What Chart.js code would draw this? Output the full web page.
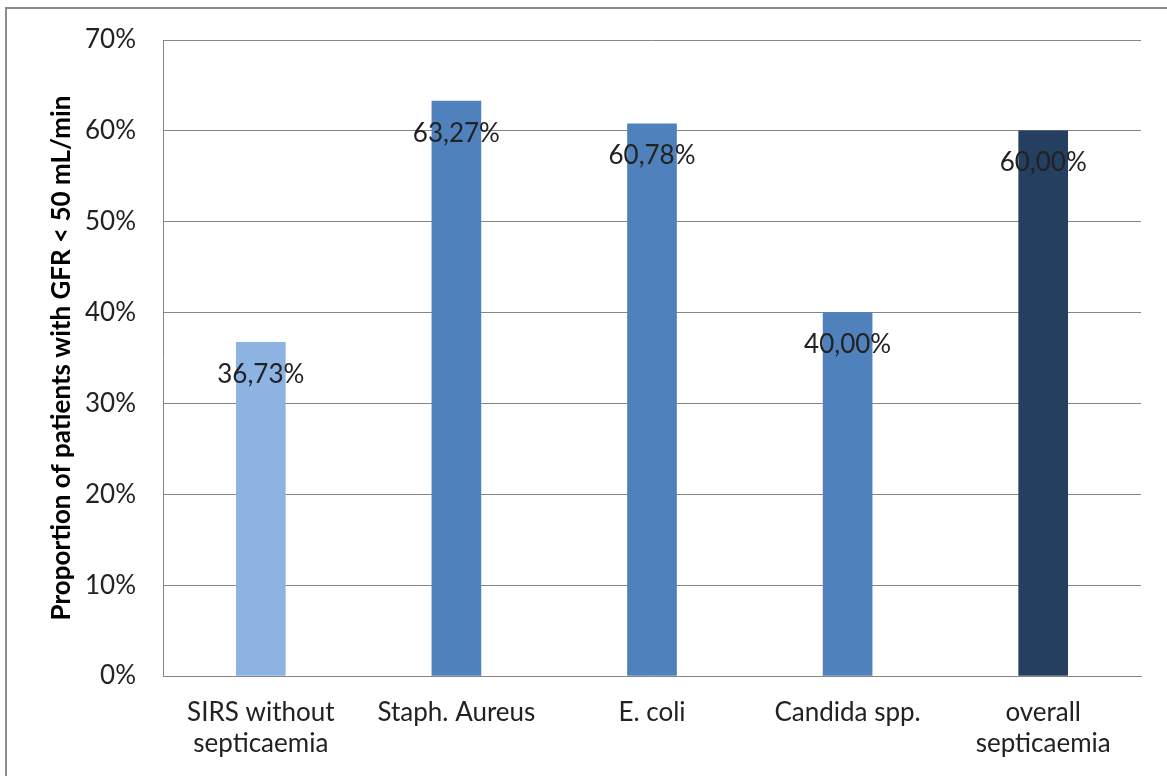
<!DOCTYPE html>
<html>
<head>
<meta charset="utf-8">
<script src="https://cdn.jsdelivr.net/npm/chart.js@4"></script>
<style>
  html, body { margin: 0; padding: 0; background: #fff; overflow: hidden; }
  #frame { position: absolute; left: 5px; top: 7px; width: 1200px; height: 800px; border: 2px solid #8c8c8c; }
  #wrap { position: absolute; left: 0; top: 0; width: 1167px; height: 776px; }
</style>
</head>
<body>
<div id="frame"></div>
<div id="wrap"><canvas id="chart"></canvas></div>
<script>
const categories = [["SIRS without", "septicaemia"], "Staph. Aureus", "E. coli", "Candida spp.", ["overall", "septicaemia"]];
const values = [36.73, 63.27, 60.78, 40.0, 60.0];
const valueLabels = ["36,73%", "63,27%", "60,78%", "40,00%", "60,00%"];
const yTicks = [0, 10, 20, 30, 40, 50, 60, 70];
const barColors = ["#8db3e2", "#4f81bd", "#4f81bd", "#4f81bd", "#243f60"];

const FONT = "Lato";

const barLabels = {
  id: "barLabels",
  afterDatasetsDraw(c) {
    const ctx = c.ctx;
    const meta = c.getDatasetMeta(0);
    ctx.save();
    ctx.font = "26px " + FONT;
    ctx.fillStyle = "#222";
    ctx.textAlign = "center";
    ctx.textBaseline = "middle";
    meta.data.forEach((bar, i) => {
      ctx.fillText(valueLabels[i], bar.x, bar.y + 32);
    });
    ctx.restore();
  },
};

new Chart(document.getElementById("chart"), {
  type: "bar",
  data: {
    labels: categories,
    datasets: [{ data: values, backgroundColor: barColors, barThickness: 49 }],
  },
  plugins: [barLabels],
  options: {
    responsive: true,
    maintainAspectRatio: false,
    animation: false,
    layout: { padding: { left: 0, top: 40, right: 26, bottom: 0 } },
    plugins: { legend: { display: false }, tooltip: { enabled: false } },
    scales: {
      x: {
        grid: { display: false, drawTicks: false },
        border: { color: "#868686", width: 1 },
        ticks: { color: "#222", font: { family: FONT, size: 26 }, padding: 21, maxRotation: 0, autoSkip: false },
        afterFit(s) { s.height = 100; },
      },
      y: {
        min: 0,
        max: 70,
        afterBuildTicks(s) { s.ticks = yTicks.map((v) => ({ value: v })); },
        grid: { color: "#868686", drawTicks: false },
        border: { color: "#868686", width: 1 },
        ticks: { color: "#222", font: { family: FONT, size: 26 }, padding: 27, callback: (v) => v + "%" },
        title: {
          display: true,
          text: "Proportion of patients with GFR < 50 mL/min",
          color: "#000",
          font: { family: FONT, size: 26, weight: "bold" },
          padding: { top: 46, bottom: 0 },
        },
        afterFit(s) {
          s.width = 163;
          s.paddingTop = 0;
          s.paddingBottom = 0;
        },
      },
    },
  },
});
</script>
</body>
</html>
